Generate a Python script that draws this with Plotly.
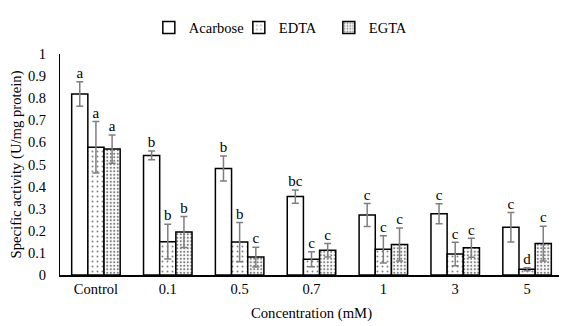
import numpy as np
import plotly.graph_objects as go

categories = ["Control", "0.1", "0.5", "0.7", "1", "3", "5"]
acarbose = [0.819, 0.541, 0.482, 0.355, 0.272, 0.277, 0.216]
acarbose_err = [0.055, 0.020, 0.057, 0.030, 0.052, 0.045, 0.067]
edta = [0.578, 0.151, 0.149, 0.071, 0.116, 0.095, 0.026]
edta_err = [0.117, 0.079, 0.089, 0.034, 0.062, 0.053, 0.007]
egta = [0.570, 0.195, 0.081, 0.112, 0.138, 0.123, 0.142]
egta_err = [0.064, 0.070, 0.045, 0.030, 0.075, 0.043, 0.079]
acarbose_lbl = ["a", "b", "b", "bc", "c", "c", "c"]
edta_lbl = ["a", "b", "b", "c", "c", "c", "d"]
egta_lbl = ["a", "b", "c", "c", "c", "c", "c"]
yticks = [0, 0.1, 0.2, 0.3, 0.4, 0.5, 0.6, 0.7, 0.8, 0.9, 1]

FONT = "Liberation Serif, Times New Roman, serif"
idx = np.arange(len(categories))
bw = 0.225
series = [
    ("Acarbose", acarbose, acarbose_err, acarbose_lbl, -bw, None),
    ("EDTA", edta, edta_err, edta_lbl, 0.0, dict(shape=".", fgcolor="black", bgcolor="white", size=5, solidity=0.12)),
    ("EGTA", egta, egta_err, egta_lbl, bw, dict(shape=".", fgcolor="black", bgcolor="white", size=3.5, solidity=0.3)),
]

fig = go.Figure()
for name, vals, errs, lbls, off, pat in series:
    x = idx + off
    marker = dict(color="white", line=dict(color="black", width=1.5))
    if pat:
        marker["pattern"] = pat
    fig.add_trace(go.Bar(
        x=x, y=vals, width=bw, name=name, marker=marker,
        error_y=dict(type="data", array=errs, color="#7f7f7f", thickness=1.5, width=3.5),
    ))
    fig.add_trace(go.Scatter(
        x=x, y=np.array(vals) + np.array(errs), mode="text", text=lbls,
        textposition="top center", textfont=dict(family=FONT, size=15, color="#000000"),
        showlegend=False, hoverinfo="skip", cliponaxis=False,
    ))

# page body has an 8px default margin; figure is sized/offset to compensate
fig.update_layout(
    width=559, height=318,
    margin=dict(l=52, r=4, t=32, b=51),
    paper_bgcolor="white", plot_bgcolor="white",
    font=dict(family=FONT, size=14.5, color="black"),
    barmode="overlay",
    legend=dict(orientation="h", x=0.445, xanchor="center", y=1.12, yanchor="middle",
                font=dict(family=FONT, size=14.5), itemwidth=30, tracegroupgap=0,
                entrywidth=45, entrywidthmode="pixels",
                bgcolor="rgba(0,0,0,0)"),
    showlegend=True,
)
fig.update_xaxes(
    range=[-0.5, len(categories) - 0.5], tickmode="array", tickvals=idx, ticktext=categories,
    showline=True, linecolor="black", linewidth=1.5, showgrid=False, zeroline=False, ticks="",
    automargin=False, tickfont=dict(family=FONT, size=14.5),
    title=dict(text="Concentration (mM)", font=dict(family=FONT, size=14.7), standoff=12),
)
fig.update_yaxes(
    range=[0, 1], tickmode="array", tickvals=yticks, ticktext=[f"{v:g}" for v in yticks],
    showline=True, linecolor="black", linewidth=1, showgrid=False, zeroline=False, ticks="",
    automargin=False, ticklabelstandoff=10, tickfont=dict(family=FONT, size=14.5),
    title=dict(text="Specific activity (U/mg protein)", font=dict(family=FONT, size=14.7), standoff=10),
)
fig.write_html("out.html")
